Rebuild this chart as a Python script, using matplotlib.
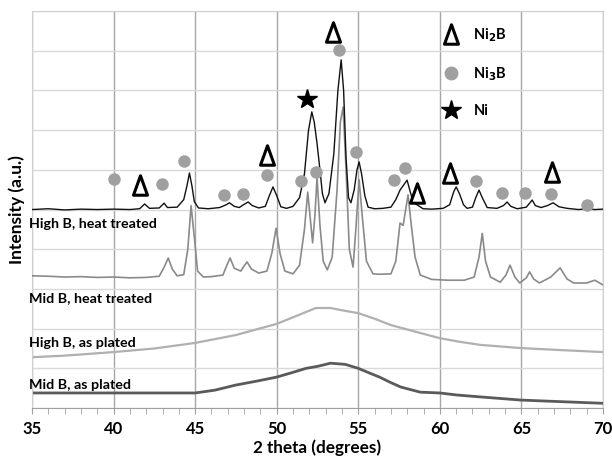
import matplotlib
matplotlib.use("Agg")
import matplotlib.pyplot as plt
from matplotlib.lines import Line2D
from matplotlib.path import Path
from matplotlib.ticker import MultipleLocator

plt.rcParams['font.family'] = ['Lato', 'DejaVu Sans']
plt.rcParams['font.weight'] = 'bold'

# High B, heat treated (black)
hb_ht_x = [35.0, 36.0, 37.0, 38.0, 39.0, 40.0, 41.0, 41.6, 41.9, 42.2, 42.8, 43.1, 43.3, 43.9,
           44.3, 44.5, 44.65, 44.8, 44.95, 45.2, 45.8, 46.5, 46.9, 47.1, 47.4, 47.7, 48.0, 48.25,
           48.5, 48.9, 49.3, 49.55, 49.77, 50.0, 50.25, 50.6, 51.0, 51.4, 51.7, 51.95, 52.15, 52.3,
           52.47, 52.65, 52.8, 52.96, 53.2, 53.5, 53.75, 53.95, 54.1, 54.25, 54.4, 54.55, 54.75,
           54.92, 55.05, 55.2, 55.4, 55.6, 56.0, 56.5, 57.0, 57.3, 57.56, 57.75, 57.99, 58.15,
           58.36, 58.6, 58.97, 59.5, 60.2, 60.6, 60.85, 61.0, 61.2, 61.45, 61.67, 62.0, 62.2, 62.4,
           62.6, 62.9, 63.5, 63.9, 64.12, 64.35, 64.74, 65.3, 65.66, 65.85, 66.2, 66.6, 66.94,
           67.3, 67.8, 68.5, 69.0, 69.5, 70.0]
hb_ht_y = [5.00, 5.02, 4.99, 5.01, 5.00, 5.01, 5.00, 5.02, 5.14, 5.03, 5.04, 5.16, 5.05, 5.06,
           5.25, 5.60, 5.92, 5.60, 5.20, 5.04, 5.02, 5.05, 5.12, 5.17, 5.08, 5.05, 5.13, 5.19,
           5.10, 5.04, 5.08, 5.35, 5.57, 5.35, 5.07, 5.03, 5.08, 5.30, 5.90, 7.00, 7.46, 7.20,
           6.67, 6.00, 5.40, 5.17, 5.40, 6.40, 8.00, 8.77, 8.00, 6.30, 5.30, 5.17, 5.50,
           6.00, 6.20, 5.90, 5.35, 5.06, 5.02, 5.03, 5.06, 5.25, 5.49, 5.60, 5.74, 5.50,
           5.19, 5.12, 5.02, 5.01, 5.03, 5.12, 5.45, 5.57, 5.40, 5.12, 5.03, 5.06, 5.30, 5.49,
           5.30, 5.05, 5.03, 5.10, 5.19, 5.08, 5.02, 5.06, 5.24, 5.10, 5.05, 5.10, 5.17,
           5.07, 5.03, 5.00, 5.02, 5.00, 5.01]

# Mid B, heat treated (grey)
mb_ht_x = [35.0, 36.0, 37.0, 38.0, 39.0, 40.0, 41.0, 42.0, 42.8, 43.1, 43.35, 43.6, 43.9, 44.3,
           44.55, 44.75, 44.95, 45.15, 45.5, 46.0, 46.7, 46.95, 47.14, 47.4, 47.8, 48.0, 48.18,
           48.45, 48.9, 49.4, 49.7, 49.96, 50.2, 50.5, 51.0, 51.4, 51.7, 51.9, 52.05, 52.2, 52.35,
           52.47, 52.65, 52.85, 53.1, 53.4, 53.7, 53.9, 54.07, 54.25, 54.45, 54.68, 54.85, 55.05,
           55.25, 55.5, 55.9, 56.3, 57.0, 57.3, 57.56, 57.75, 58.05, 58.25, 58.48, 58.8, 59.5,
           60.5, 61.5, 62.1, 62.4, 62.6, 62.8, 63.1, 63.7, 64.05, 64.3, 64.6, 64.9, 65.3, 65.5,
           65.75, 66.1, 66.8, 67.37, 67.8, 68.2, 69.0, 69.5, 70.0]
mb_ht_y = [3.33, 3.32, 3.30, 3.31, 3.29, 3.30, 3.28, 3.29, 3.32, 3.55, 3.78, 3.50, 3.33, 3.36,
           4.00, 5.10, 4.30, 3.45, 3.30, 3.31, 3.35, 3.60, 3.78, 3.52, 3.45, 3.58, 3.68,
           3.50, 3.40, 3.45, 3.90, 4.53, 3.90, 3.45, 3.38, 3.60, 4.50, 5.44, 4.80, 4.16, 4.90,
           5.82, 4.60, 3.70, 3.48, 3.80, 5.50, 7.20, 7.58, 6.00, 4.00, 3.55, 4.50, 5.75,
           4.80, 3.70, 3.38, 3.37, 3.38, 3.70, 4.66, 4.60, 5.37, 4.60, 3.80, 3.35, 3.24,
           3.22, 3.22, 3.30, 3.80, 4.40, 3.70, 3.30, 3.17, 3.35, 3.60, 3.30, 3.15, 3.28, 3.43,
           3.25, 3.15, 3.30, 3.53, 3.25, 3.15, 3.15, 3.22, 3.10]

# High B, as plated (light grey)
hb_ap_x = [35.0, 37.0, 40.0, 42.5, 45.0, 47.5, 50.0, 51.8, 52.4, 53.3, 53.9, 55.0, 56.0, 57.0,
           58.8, 60.0, 61.2, 62.5, 65.0, 67.4, 70.0]
hb_ap_y = [1.28, 1.32, 1.41, 1.50, 1.64, 1.84, 2.12, 2.42, 2.52, 2.52, 2.47, 2.39, 2.25, 2.09,
           1.89, 1.76, 1.67, 1.59, 1.51, 1.46, 1.41]

# Mid B, as plated (dark grey)
mb_ap_x = [35.0, 40.0, 45.0, 46.2, 47.5, 48.8, 50.0, 51.0, 51.8, 52.5, 53.3, 54.2, 55.0, 55.7,
           56.3, 57.0, 57.6, 58.8, 60.0, 61.0, 62.5, 65.0, 67.5, 70.0]
mb_ap_y = [0.38, 0.38, 0.38, 0.45, 0.58, 0.68, 0.78, 0.90, 1.00, 1.05, 1.13, 1.10, 1.00, 0.88,
           0.78, 0.64, 0.53, 0.40, 0.38, 0.33, 0.28, 0.20, 0.16, 0.12]

# phase markers
ni3b_x = [40.0, 42.97, 44.3, 46.77, 47.94, 49.4, 51.5, 52.4, 53.8, 54.87, 57.2, 57.87,
          62.2, 63.8, 65.2, 66.8, 69.0]
ni3b_y = [5.76, 5.64, 6.21, 5.36, 5.39, 5.87, 5.72, 5.94, 9.01, 6.45, 5.74, 6.05,
          5.72, 5.42, 5.42, 5.39, 5.12]
ni2b_x = [41.6, 49.4, 53.45, 58.6, 60.63, 66.9]
ni2b_y = [5.62, 6.37, 9.47, 5.42, 5.92, 5.94]
ni_x = [51.86]
ni_y = [7.79]

series_labels = ['High B, heat treated', 'Mid B, heat treated', 'High B, as plated', 'Mid B, as plated']
label_y = [4.63, 2.77, 1.64, 0.58]

# open, tall triangle like the bold Delta glyph
delta = Path([(-0.36, -0.5), (0.36, -0.5), (0.0, 0.5), (-0.36, -0.5)],
             [Path.MOVETO, Path.LINETO, Path.LINETO, Path.CLOSEPOLY])

fig = plt.figure(figsize=(6.12, 4.59), dpi=100)
ax = fig.add_axes([0.0523, 0.111, 0.933, 0.865])

ax.plot(mb_ap_x, mb_ap_y, color='#5a5a5a', lw=2.0, zorder=2)
ax.plot(hb_ap_x, hb_ap_y, color='#b0b0b0', lw=1.6, zorder=2)
ax.plot(mb_ht_x, mb_ht_y, color='#8a8a8a', lw=1.2, zorder=3)
ax.plot(hb_ht_x, hb_ht_y, color='#111111', lw=1.0, zorder=4)

ax.plot(ni3b_x, ni3b_y, 'o', color='#a0a0a0', ms=9, mec='none', zorder=5)
ax.plot(ni2b_x, ni2b_y, marker=delta, ls='none', mfc='white', mec='black', mew=2.2, ms=14, zorder=5)
ax.plot(ni_x, ni_y, '*', color='black', ms=15, zorder=5)

for lab, yy in zip(series_labels, label_y):
    ax.text(34.8, yy, lab, fontsize=10.3, fontweight='bold', va='center', ha='left',
            clip_on=False, zorder=6)

handles = [Line2D([], [], marker=delta, ls='none', mfc='white', mec='black', mew=2.2, ms=14),
           Line2D([], [], marker='o', ls='none', color='#a0a0a0', mec='none', ms=10),
           Line2D([], [], marker='*', ls='none', color='black', ms=15)]
ax.legend(handles, ['Ni$_2$B', 'Ni$_3$B', 'Ni'], loc='upper left', bbox_to_anchor=(0.69, 0.995),
          frameon=False, labelspacing=1.45, handletextpad=0.75, handlelength=1.6,
          prop={'weight': 'bold', 'size': 10.5})

ax.set_xlim(35, 70)
ax.set_ylim(0, 10)
ax.xaxis.set_major_locator(MultipleLocator(5))
ax.xaxis.set_minor_locator(MultipleLocator(1))
ax.yaxis.set_major_locator(MultipleLocator(1))
ax.set_yticklabels([])
ax.tick_params(axis='y', length=0)
ax.tick_params(axis='x', which='both', direction='out', length=4, color='#a0a0a0',
               labelsize=12, pad=5)
for t in ax.get_xticklabels():
    t.set_fontweight('bold')

ax.grid(axis='y', color='#d9d9d9', lw=1.0)
ax.grid(axis='x', which='major', color='#a6a6a6', lw=1.0)
ax.set_axisbelow(True)
for side in ['left', 'right', 'top']:
    ax.spines[side].set_color('#cfcfcf')
ax.spines['bottom'].set_color('#a0a0a0')

ax.set_xlabel('2 theta (degrees)', fontsize=12.3, fontweight='bold')
ax.xaxis.set_label_coords(0.5, -0.078)
ax.set_ylabel('Intensity (a.u.)', fontsize=12.5, fontweight='bold')
ax.yaxis.set_label_coords(-0.013, 0.5)

fig.savefig('out.png', dpi=100)
